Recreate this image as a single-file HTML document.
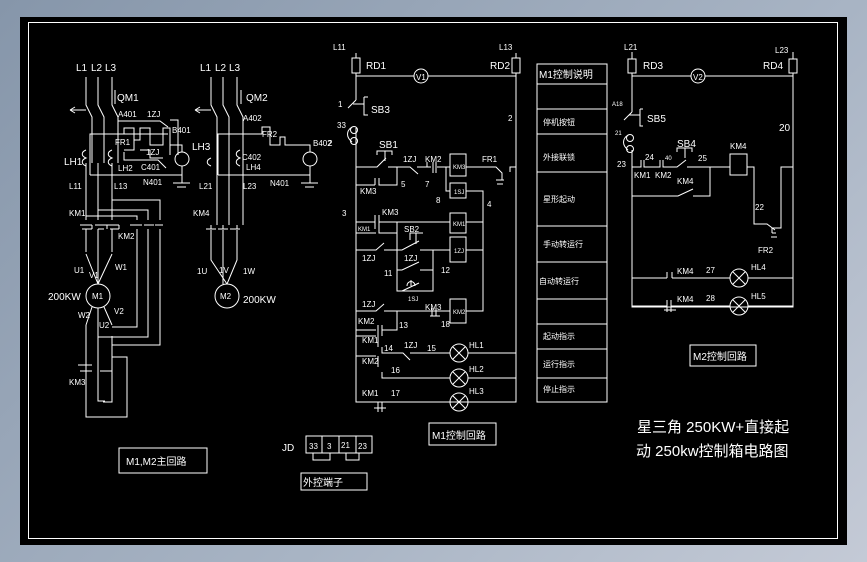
<!DOCTYPE html>
<html><head><meta charset="utf-8"><style>
html,body{margin:0;padding:0;width:867px;height:562px;overflow:hidden;background:linear-gradient(135deg,#8696aa 0%,#a8b4c4 60%,#c4cad6 100%);}
svg{position:absolute;left:0;top:0}
text{font-family:"Liberation Sans","Noto Sans CJK SC",sans-serif;fill:#fff;font-size:10px}
.s{font-size:8px}
.cn{font-family:"Liberation Sans","Noto Sans CJK SC",sans-serif;}
</style></head><body>
<svg width="867" height="562" viewBox="0 0 867 562" xmlns="http://www.w3.org/2000/svg">
<rect x="20" y="17" width="827" height="528" fill="#000"/>
<rect x="28.5" y="22.5" width="809" height="516" fill="none" stroke="#fff" stroke-width="1"/>
<g stroke="#fff" stroke-width="1" fill="none">
<!-- ===== M1 main circuit ===== -->
<path d="M86,77V105L92,117V163M98,77V105L104,117V163M112,77V105L118,117V163"/>
<path d="M70,110H86M70,110l5,-3M70,110l5,3"/>
<path d="M115,90V104"/>
<!-- FR1 / LH area -->
<path d="M90,175V134H168M90,175H182V167"/>
<path d="M118,134V121H160L168,127"/>
<path d="M124,134V128H134V140H140V128H150V145H163V128H170V155"/>
<path d="M124,150H134V140M140,150H150V158H163"/>
<path d="M124,152V160H158L166,168"/>
<path d="M170,120H178V155"/>
<path d="M170,145H182V152"/>
<circle cx="182" cy="159" r="7"/>
<path d="M182,166V183M173,183H190M177,187H186"/>
<path d="M86,150c-5,2-5,6,0,8c-5,2-5,6,0,8"/>
<path d="M112,150c-5,2-5,6,0,8c-5,2-5,6,0,8"/>
<!-- KM1 contacts & wiring -->
<path d="M86,163V220M98,163V220M112,163V220"/>
<path d="M112,200H160V220M98,210H148V220M86,216H137V220"/>
<path d="M80,225H92M92,225V229M95,225H107M107,225V229M107,225H119M119,225V229"/>
<path d="M82,229H92M98,229H104M110,229H119"/>
<path d="M130,225H142M144,225H154M155,225H163"/>
<path d="M86,229V252M98,229V254M112,229V252"/>
<path d="M86,254L98,284M112,254L98,284M98,254V284"/>
<circle cx="98" cy="296" r="12"/>
<path d="M92,307L86,325M104,307L112,325M98,308V325"/>
<path d="M137,229V327H112M148,229V337H98M160,229V345H112"/>
<path d="M86,325V417H127V357H112V336M98,325V401H105M112,345V402H103"/>
<path d="M78,365H92M80,371H92M100,371H112"/>
<!-- M2 main circuit -->
<path d="M211,77V105L217,117V225M223,77V105L229,117V225M237,77V105L243,117V225"/>
<path d="M195,110H211M195,110l5,-3M195,110l5,3"/>
<path d="M241,90V104"/>
<path d="M211,158c-5,2-5,6,0,8M240,150c-5,2-5,6,0,8c-5,2-5,6,0,8"/>
<path d="M218,175V134H262V127H270V145H280V137H285V145H310V152"/>
<path d="M218,175H310V167"/>
<circle cx="310" cy="159" r="7"/>
<path d="M310,166V183M301,183H318M305,187H314"/>
<path d="M206,229H216M218,229H228M230,229H240"/>
<path d="M211,225V229M223,225V229M237,225V229"/>
<path d="M211,230V260L227,284M237,230V260L227,284M223,230V284"/>
<circle cx="227" cy="296" r="12"/>
<!-- JD -->
<rect x="306" y="436" width="66" height="17"/>
<path d="M322,436V453M339,436V453M356,436V453M313,453V460H330V453M346,453V460H359V453"/>
<rect x="301" y="473" width="66" height="17"/>
<rect x="119" y="448" width="88" height="25"/>
<!-- ===== M1 control ===== -->
<path d="M356,53V58M356,73V100M356,128V402H516V73M516,53V58"/>
<rect x="352" y="58" width="8" height="15"/>
<rect x="512" y="58" width="8" height="15"/>
<path d="M356,76H414M428,76H516"/>
<circle cx="421" cy="76" r="7"/>
<path d="M356,100L348,108M353,104H364M364,97V115H368M364,97H368"/>
<circle cx="354" cy="130" r="3.5"/><circle cx="354" cy="141" r="3.5"/>
<path d="M352,127c-6,4-6,10,0,15"/>
<!-- row 167 -->
<path d="M356,167H377L386,158M388,167H410L418,174M417,167H427V162M437,167H450M436,162V173M433,162V173M427,167H431"/>
<path d="M377,155V151H392V155M385,151V161"/>
<rect x="450" y="154" width="16" height="22"/>
<rect x="450" y="183" width="16" height="15"/>
<path d="M466,167H496L502,173V180M496,180H504M497,184H503M510,172V167H516"/>
<path d="M446,167V191H450M466,191H483V311H466"/>
<path d="M356,185H375M375,178V185M379,178V185H397V167"/>
<!-- KM1 row -->
<path d="M356,222H375M375,215V229M379,215V229M379,222H450"/>
<rect x="450" y="213" width="16" height="20"/>
<path d="M466,222H483"/>
<path d="M356,233H376M379,229V233H397"/>
<path d="M356,250H376L384,243M384,250H397"/>
<path d="M397,222V291H433V250"/>
<path d="M397,250H402L419,241M410,240V233H423M416,233V244M420,250H450"/>
<rect x="450" y="237" width="16" height="25"/>
<path d="M466,250H483"/>
<path d="M397,270H402L419,262M420,270H433"/>
<path d="M402,291L419,283"/>
<path d="M407,286c0,-6 8,-6 8,0M411,280V286"/>
<!-- KM2 row -->
<path d="M356,311H376L384,304M384,311H450"/>
<path d="M433,311H437M432,308V316M436,308V316M430,316H440"/>
<rect x="450" y="299" width="16" height="24"/>
<path d="M356,330H376M378,325V336M382,325V336M382,330H397V311"/>
<!-- lamp rows -->
<path d="M356,336H376M378,335V347M382,347V353H403L410,360M410,353H450M468,353H516"/>
<path d="M356,356H376M378,356V367M382,372V378H450M468,378H516"/>
<path d="M378,402V412M374,408H386M382,402V412"/>
<circle cx="459" cy="353" r="9"/><path d="M453,347L465,359M465,347L453,359"/>
<circle cx="459" cy="378" r="9"/><path d="M453,372L465,384M465,372L453,384"/>
<circle cx="459" cy="402" r="9"/><path d="M453,396L465,408M465,396L453,408"/>
<rect x="429" y="423" width="67" height="22"/>
<!-- table -->
<rect x="537" y="64" width="70" height="338"/>
<path d="M537,84H607M537,109H607M537,134H607M537,172H607M537,226H607M537,262H607M537,299H607M537,324H607M537,349H607M537,378H607"/>
<!-- ===== M2 control ===== -->
<path d="M632,52V59M632,73V112M632,150V307H793V73M793,52V59"/>
<rect x="628" y="59" width="8" height="14"/>
<rect x="789" y="59" width="8" height="14"/>
<path d="M632,76H691M705,76H793"/>
<circle cx="698" cy="76" r="7"/>
<path d="M632,112L624,120M629,115H640M640,109V126H643M640,109H643"/>
<circle cx="630" cy="138" r="3.5"/><circle cx="630" cy="149" r="3.5"/>
<path d="M628,135c-6,4-6,10,0,15"/>
<path d="M632,167H641V160M644,160V167H660V160M663,160V167H677L686,160M687,167H730"/>
<path d="M677,152V148H692V152M685,148V158"/>
<rect x="730" y="154" width="17" height="21"/>
<path d="M747,167H754V224H767L775,230M772,233V228H781V167H793M772,233H776M771,237H777"/>
<path d="M632,196H678L693,189M693,196H710V167"/>
<path d="M632,278H667M667,272V278M672,272V278M672,278H730M748,278H793"/>
<path d="M632,306H667M667,300V312M671,300V312M664,310H676M671,306H730M748,306H793"/>
<circle cx="739" cy="278" r="9"/><path d="M733,272L745,284M745,272L733,284"/>
<circle cx="739" cy="306" r="9"/><path d="M733,300L745,312M745,300L733,312"/>
<rect x="690" y="345" width="66" height="21"/>
</g>
<!-- ===== text ===== -->
<g>
<text x="76" y="71">L1</text><text x="91" y="71">L2</text><text x="105" y="71">L3</text>
<text x="117" y="101">QM1</text>
<text x="118" y="117" class="s">A401</text><text x="147" y="117" class="s">1ZJ</text>
<text x="172" y="133" class="s">B401</text>
<text x="115" y="145" class="s">FR1</text><text x="146" y="155" class="s">1ZJ</text>
<text x="64" y="165">LH1</text><text x="118" y="171" class="s">LH2</text><text x="141" y="170" class="s">C401</text>
<text x="143" y="185" class="s">N401</text>
<text x="69" y="189" class="s">L11</text><text x="114" y="189" class="s">L13</text>
<text x="69" y="216" class="s">KM1</text><text x="118" y="239" class="s">KM2</text>
<text x="74" y="273" class="s">U1</text><text x="89" y="278" class="s">V1</text><text x="115" y="270" class="s">W1</text>
<text x="48" y="300">200KW</text><text x="92" y="299" class="s">M1</text>
<text x="78" y="318" class="s">W2</text><text x="114" y="314" class="s">V2</text><text x="99" y="328" class="s">U2</text>
<text x="69" y="385" class="s">KM3</text>
<text x="126" y="465">M1,M2主回路</text>
<text x="200" y="71">L1</text><text x="215" y="71">L2</text><text x="229" y="71">L3</text>
<text x="246" y="101">QM2</text><text x="243" y="121" class="s">A402</text>
<text x="192" y="150">LH3</text><text x="262" y="137" class="s">FR2</text><text x="313" y="146" class="s">B402</text>
<text x="242" y="160" class="s">C402</text><text x="246" y="170" class="s">LH4</text>
<text x="270" y="186" class="s">N401</text>
<text x="199" y="189" class="s">L21</text><text x="243" y="189" class="s">L23</text>
<text x="193" y="216" class="s">KM4</text>
<text x="197" y="274" class="s">1U</text><text x="219" y="273" class="s">1V</text><text x="243" y="274" class="s">1W</text>
<text x="220" y="299" class="s">M2</text><text x="243" y="303">200KW</text>
<text x="282" y="451">JD</text>
<text x="309" y="449" class="s">33</text><text x="327" y="449" class="s">3</text><text x="341" y="448" class="s">21</text><text x="358" y="449" class="s">23</text>
<text x="303" y="486">外控端子</text>
<text x="333" y="50" class="s">L11</text><text x="499" y="50" class="s">L13</text>
<text x="366" y="69">RD1</text><text x="490" y="69">RD2</text><text x="416" y="80" class="s">V1</text>
<text x="338" y="107" class="s">1</text><text x="371" y="113">SB3</text><text x="337" y="128" class="s">33</text>
<text x="328" y="146" class="s">2</text><text x="508" y="121" class="s">2</text>
<text x="379" y="148">SB1</text><text x="403" y="162" class="s">1ZJ</text><text x="425" y="162" class="s">KM2</text>
<text x="482" y="162" class="s">FR1</text><text x="453" y="169" style="font-size:6px">KM3</text>
<text x="360" y="194" class="s">KM3</text><text x="401" y="187" class="s">5</text><text x="425" y="187" class="s">7</text>
<text x="436" y="203" class="s">8</text><text x="454" y="194" style="font-size:6px">1SJ</text><text x="487" y="207" class="s">4</text>
<text x="342" y="216" class="s">3</text><text x="382" y="215" class="s">KM3</text>
<text x="358" y="231" style="font-size:6px">KM1</text><text x="453" y="226" style="font-size:6px">KM1</text>
<text x="404" y="232" class="s">SB2</text><text x="454" y="253" style="font-size:6px">1ZJ</text>
<text x="362" y="261" class="s">1ZJ</text><text x="404" y="261" class="s">1ZJ</text>
<text x="384" y="276" class="s">11</text><text x="441" y="273" class="s">12</text><text x="408" y="301" style="font-size:6px">1SJ</text>
<text x="362" y="307" class="s">1ZJ</text><text x="425" y="310" class="s">KM3</text><text x="453" y="314" style="font-size:6px">KM2</text>
<text x="358" y="324" class="s">KM2</text><text x="399" y="328" class="s">13</text><text x="441" y="327" class="s">18</text>
<text x="362" y="343" class="s">KM1</text><text x="384" y="351" class="s">14</text><text x="404" y="348" class="s">1ZJ</text><text x="427" y="351" class="s">15</text>
<text x="469" y="348" class="s">HL1</text>
<text x="362" y="364" class="s">KM2</text><text x="391" y="373" class="s">16</text><text x="469" y="372" class="s">HL2</text>
<text x="362" y="396" class="s">KM1</text><text x="391" y="396" class="s">17</text><text x="469" y="394" class="s">HL3</text>
<text x="432" y="439">M1控制回路</text>
<text x="539" y="78" style="font-size:10px">M1控制说明</text>
<text x="543" y="125" class="s">停机按钮</text>
<text x="543" y="160" class="s">外接联锁</text>
<text x="543" y="202" class="s">星形起动</text>
<text x="543" y="247" class="s">手动转运行</text>
<text x="539" y="284" class="s">自动转运行</text>
<text x="543" y="339" class="s">起动指示</text>
<text x="543" y="367" class="s">运行指示</text>
<text x="543" y="392" class="s">停止指示</text>
<text x="624" y="50" class="s">L21</text><text x="775" y="53" class="s">L23</text>
<text x="643" y="69">RD3</text><text x="763" y="69">RD4</text><text x="693" y="80" class="s">V2</text>
<text x="612" y="106" style="font-size:6px">A18</text><text x="647" y="122">SB5</text><text x="615" y="135" style="font-size:6px">21</text>
<text x="779" y="131">20</text><text x="617" y="167" class="s">23</text>
<text x="645" y="160" class="s">24</text><text x="665" y="160" style="font-size:6px">40</text>
<text x="677" y="147">SB4</text><text x="698" y="161" class="s">25</text><text x="730" y="149" class="s">KM4</text>
<text x="634" y="178" class="s">KM1</text><text x="655" y="178" class="s">KM2</text><text x="677" y="184" class="s">KM4</text>
<text x="755" y="210" class="s">22</text><text x="758" y="253" class="s">FR2</text>
<text x="677" y="274" class="s">KM4</text><text x="706" y="273" class="s">27</text><text x="751" y="270" class="s">HL4</text>
<text x="677" y="302" class="s">KM4</text><text x="706" y="301" class="s">28</text><text x="751" y="299" class="s">HL5</text>
<text x="693" y="360">M2控制回路</text>
<text x="637" y="432" style="font-size:15px">星三角 250KW+直接起</text>
<text x="636" y="456" style="font-size:15px">动 250kw控制箱电路图</text>
</g>
</svg>
</body></html>
